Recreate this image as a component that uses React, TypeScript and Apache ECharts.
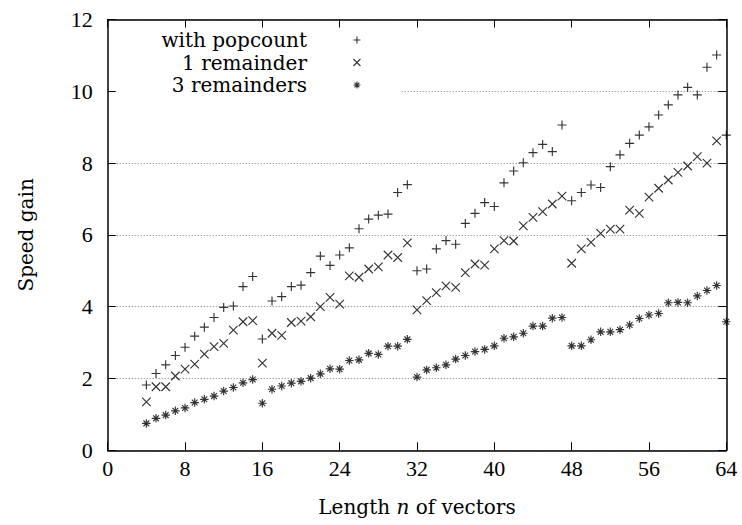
import React, { useEffect, useRef } from "react";
import * as echarts from "echarts";

const lengths = [
  4, 5, 6, 7, 8, 9, 10, 11, 12, 13, 14, 15, 16, 17, 18, 19, 20, 21, 22, 23, 24,
  25, 26, 27, 28, 29, 30, 31, 32, 33, 34, 35, 36, 37, 38, 39, 40, 41, 42, 43,
  44, 45, 46, 47, 48, 49, 50, 51, 52, 53, 54, 55, 56, 57, 58, 59, 60, 61, 62,
  63, 64,
];

const withPopcount = [
  1.82, 2.14, 2.38, 2.64, 2.87, 3.18, 3.43, 3.7, 3.98, 4.02, 4.56, 4.84, 3.1,
  4.16, 4.28, 4.56, 4.6, 4.95, 5.41, 5.15, 5.44, 5.64, 6.17, 6.44, 6.55, 6.58,
  7.18, 7.4, 5.0, 5.05, 5.61, 5.84, 5.74, 6.32, 6.6, 6.9, 6.79, 7.45, 7.78,
  8.01, 8.29, 8.52, 8.32, 9.06, 6.95, 7.18, 7.39, 7.32, 7.9, 8.23, 8.55, 8.78,
  9.01, 9.34, 9.62, 9.9, 10.11, 9.9, 10.67, 11.01, 8.78,
];

const oneRemainder = [
  1.35, 1.77, 1.77, 2.07, 2.26, 2.4, 2.68, 2.89, 2.98, 3.35, 3.58, 3.61, 2.43,
  3.26, 3.2, 3.56, 3.6, 3.72, 4.0, 4.26, 4.07, 4.86, 4.82, 5.05, 5.11, 5.44,
  5.37, 5.78, 3.91, 4.17, 4.39, 4.58, 4.54, 4.95, 5.19, 5.16, 5.61, 5.84, 5.83,
  6.25, 6.49, 6.65, 6.86, 7.08, 5.21, 5.61, 5.79, 6.04, 6.16, 6.16, 6.69, 6.6,
  7.05, 7.3, 7.53, 7.74, 7.92, 8.18, 8.0, 8.62, null,
];

const threeRemainders = [
  0.75, 0.89, 0.98, 1.1, 1.18, 1.33, 1.42, 1.51, 1.65, 1.75, 1.88, 1.97, 1.31,
  1.7, 1.79, 1.87, 1.92, 2.01, 2.13, 2.27, 2.26, 2.5, 2.52, 2.7, 2.67, 2.9, 2.9,
  3.09, 2.04, 2.24, 2.3, 2.38, 2.54, 2.64, 2.75, 2.81, 2.91, 3.12, 3.16, 3.26,
  3.46, 3.46, 3.68, 3.7, 2.91, 2.91, 3.08, 3.3, 3.3, 3.36, 3.49, 3.67, 3.77,
  3.81, 4.11, 4.12, 4.11, 4.3, 4.45, 4.59, 3.58,
];

const seriesNames = ["with popcount", "1 remainder", "3 remainders"];
const xTicks = { min: 0, max: 64, interval: 8 };
const yTicks = { min: 0, max: 12, interval: 2 };

const PLUS = "path://M5,0V10M0,5H10";
const CROSS = "path://M0,0L10,10M10,0L0,10";
const STAR = "path://M5,0V10M0,5H10M1.6,1.6L8.4,8.4M8.4,1.6L1.6,8.4";

const SERIF = '"DejaVu Serif", serif';
const TICKFONT = '"Liberation Serif", serif';

const pairs = (vals: (number | null)[]) =>
  lengths.map((n, i) => (vals[i] == null ? null : [n, vals[i]])).filter((p) => p !== null);

const itemStyle = { color: "rgba(0,0,0,0)", borderColor: "#000", borderWidth: 1.15 };

export default function App() {
  const ref = useRef<HTMLDivElement>(null);
  useEffect(() => {
    if (!ref.current) return;
    const chart = echarts.init(ref.current, null, { renderer: "svg" });
    const border = { show: true, onZero: false, lineStyle: { color: "#000", width: 1.5 } };
    const tick = { show: true, inside: true, length: 8, lineStyle: { color: "#000", width: 1 } };
    chart.setOption({
      animation: false,
      backgroundColor: "#fff",
      grid: { left: 107.7, right: 15.7, top: 19.5, bottom: 74.7, containLabel: false },
      graphic: [
        {
          type: "rect",
          z: 1,
          silent: true,
          shape: { x: 116, y: 85, width: 285.5, height: 12 },
          style: { fill: "#fff" },
        },
      ],
      legend: {
        orient: "vertical",
        align: "right",
        right: 381,
        top: 30,
        padding: 0,
        itemWidth: 90,
        itemHeight: 7,
        itemGap: 2.5,
        selectedMode: false,
        itemStyle: { color: "rgba(0,0,0,0)", borderColor: "#000", borderWidth: 1.1 },
        textStyle: { fontFamily: SERIF, fontSize: 20, color: "#000" },
        data: [
          { name: seriesNames[0], icon: PLUS },
          { name: seriesNames[1], icon: CROSS },
          { name: seriesNames[2], icon: STAR },
        ],
      },
      xAxis: [
        {
          type: "value",
          position: "bottom",
          ...xTicks,
          axisLine: border,
          axisTick: tick,
          splitLine: { show: false },
          axisLabel: { margin: 7, fontFamily: TICKFONT, fontSize: 22, color: "#000" },
          name: "Length {i|n} of vectors",
          nameLocation: "middle",
          nameGap: 47,
          nameTextStyle: {
            fontFamily: SERIF,
            fontSize: 20,
            color: "#000",
            rich: { i: { fontFamily: SERIF, fontSize: 20, fontStyle: "italic", color: "#000" } },
          },
        },
        {
          type: "value",
          position: "top",
          ...xTicks,
          axisLine: border,
          axisTick: tick,
          splitLine: { show: false },
          axisLabel: { show: false },
        },
      ],
      yAxis: [
        {
          type: "value",
          position: "left",
          ...yTicks,
          axisLine: border,
          axisTick: tick,
          splitLine: { show: true, lineStyle: { color: "#777", width: 1, type: [1, 2] } },
          axisLabel: { margin: 15, fontFamily: TICKFONT, fontSize: 22, color: "#000" },
          name: "Speed gain",
          nameLocation: "middle",
          nameGap: 72,
          nameTextStyle: { fontFamily: SERIF, fontSize: 20, color: "#000" },
        },
        {
          type: "value",
          position: "right",
          ...yTicks,
          axisLine: border,
          axisTick: tick,
          splitLine: { show: false },
          axisLabel: { show: false },
        },
      ],
      series: [
        {
          name: seriesNames[0],
          type: "scatter",
          symbol: PLUS,
          symbolSize: 9,
          itemStyle,
          data: pairs(withPopcount),
        },
        {
          name: seriesNames[1],
          type: "scatter",
          symbol: CROSS,
          symbolSize: 8.5,
          itemStyle,
          data: pairs(oneRemainder),
        },
        {
          name: seriesNames[2],
          type: "scatter",
          symbol: STAR,
          symbolSize: 8.5,
          itemStyle,
          data: pairs(threeRemainders),
        },
      ],
    });
    return () => chart.dispose();
  }, []);
  return <div ref={ref} style={{ width: 742, height: 525, position: "absolute", left: 0, top: 0 }} />;
}
